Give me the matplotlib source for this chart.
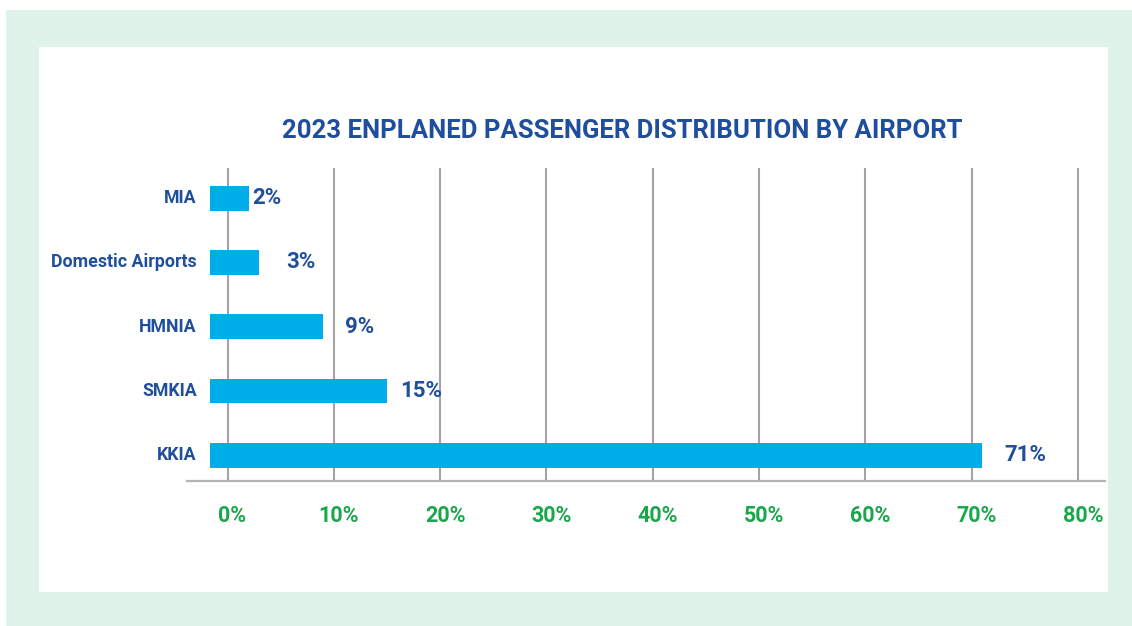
import matplotlib.pyplot as plt
import matplotlib.transforms as mtransforms
from matplotlib.patches import Rectangle
import numpy as np

# data
airports = ["KKIA", "SMKIA", "HMNIA", "Domestic Airports", "MIA"]
shares = [71, 15, 9, 3, 2]
x_ticks = [0, 10, 20, 30, 40, 50, 60, 70, 80]
tick_labels = ["%d%%" % t for t in x_ticks]
title = "2023 ENPLANED PASSENGER DISTRIBUTION BY AIRPORT"

# styling
BLUE = "#1f4e9d"
CYAN = "#00adeb"
GREEN = "#1aa64b"
GRID = "#a3a3a3"
BG_GREEN = "#dff3ea"
FONT = "Roboto"
BAR_LEFT = -1.65
label_pad = [16.3, 9.4, 15.8, 19.4, 2.2]  # points, per bar

W, H = 1132, 626
fig = plt.figure(figsize=(W / 100, H / 100), dpi=100)
fig.patch.set_facecolor("white")

# green frame + white card
fig.patches.append(Rectangle((6 / W, 0), 1 - 6 / W, 1 - 10 / H, transform=fig.transFigure,
                             facecolor=BG_GREEN, edgecolor="none", zorder=-2))
fig.patches.append(Rectangle((39 / W, 1 - 592 / H), (1108 - 39) / W, (592 - 47) / H,
                             transform=fig.transFigure, facecolor="white",
                             edgecolor="none", zorder=-1))

ax = fig.add_axes([187 / W, 1 - 481 / H, (1105 - 187) / W, (481 - 168) / H])
ax.set_facecolor("none")

y = np.arange(len(airports))
vals = np.array(shares, dtype=float)
ax.barh(y, vals - BAR_LEFT, left=BAR_LEFT, height=0.385, color=CYAN, zorder=3)

ax.set_xlim(-3.81, 82.55)
ax.set_ylim(-0.4, 4.47)

# gridlines
for t in x_ticks:
    ax.axvline(t, color=GRID, lw=1.5, zorder=1)

for s in ["top", "right", "left"]:
    ax.spines[s].set_visible(False)
ax.spines["bottom"].set_color("#b3b3b3")
ax.spines["bottom"].set_linewidth(1.6)

ax.set_yticks([])
ax.set_xticks(x_ticks)
ax.set_xticklabels(tick_labels, fontsize=15.5, fontweight="bold", color=GREEN, family=FONT)
ax.tick_params(axis="x", length=0, pad=17)
shift = mtransforms.ScaledTranslation(5 / 100, 0, fig.dpi_scale_trans)
for lbl in ax.get_xticklabels():
    lbl.set_transform(lbl.get_transform() + shift)

# category names
for i, name in enumerate(airports):
    ax.annotate(name, (BAR_LEFT, i), xytext=(-9.4, 0), textcoords="offset points",
                ha="right", va="center", fontsize=12.8, fontweight="bold",
                color=BLUE, family=FONT)

# value labels
for i, v in enumerate(shares):
    ax.annotate("%d%%" % v, (v, i), xytext=(label_pad[i], 0), textcoords="offset points",
                ha="left", va="center", fontsize=16, fontweight="bold",
                color=BLUE, family=FONT)

fig.text(622.5 / W, 1 - 130.5 / H, title, ha="center", va="center",
         fontsize=18.5, fontweight="bold", color=BLUE, family=FONT)

fig.savefig("out.png", dpi=100)
